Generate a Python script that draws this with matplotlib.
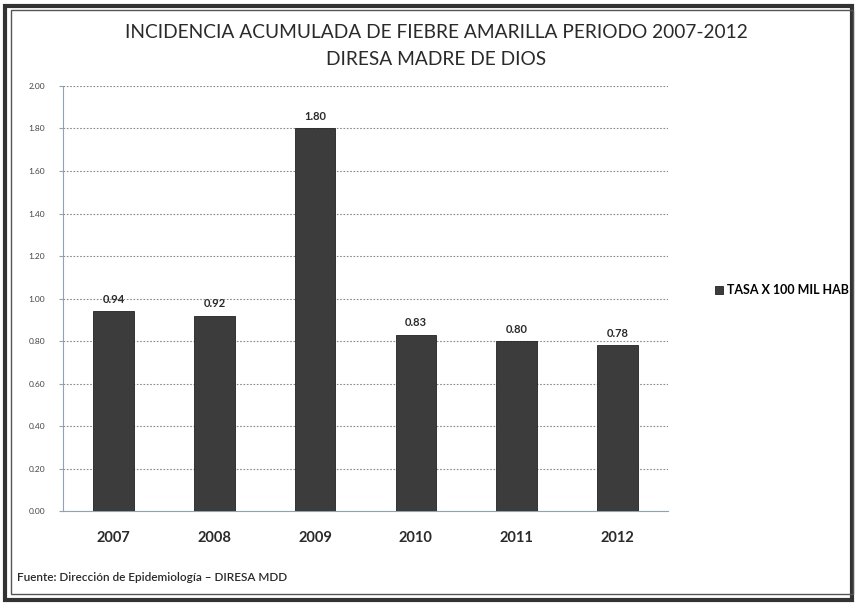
import matplotlib
matplotlib.use("Agg")
import matplotlib.pyplot as plt
from matplotlib.patches import Rectangle

years = ["2007", "2008", "2009", "2010", "2011", "2012"]
tasa = [0.94, 0.92, 1.80, 0.83, 0.80, 0.78]
labels = ["0.94", "0.92", "1.80", "0.83", "0.80", "0.78"]
yticks = [0.0, 0.2, 0.4, 0.6, 0.8, 1.0, 1.2, 1.4, 1.6, 1.8, 2.0]

plt.rcParams["font.family"] = ["Lato", "DejaVu Sans"]
BAR = "#3c3c3c"
TXT = "#2a2a2a"

fig = plt.figure(figsize=(8.55, 6.05), dpi=100, facecolor="white")
ax = fig.add_axes([0.074, 0.155, 0.707, 0.703])

x = list(range(len(years)))
ax.bar(x, tasa, width=0.4, color=BAR, edgecolor="#222222", linewidth=0.6,
       label="TASA X 100 MIL HAB", zorder=3)
for xi, v, s in zip(x, tasa, labels):
    ax.text(xi, v + 0.03, s, ha="center", va="bottom", fontsize=8,
            fontweight="bold", color=TXT)

ax.set_xlim(-0.5, 5.5)
ax.set_ylim(0, 2.0)
ax.set_yticks(yticks)
ax.set_yticklabels([f"{t:.2f}" for t in yticks], fontsize=6, color="#444444")
ax.set_xticks(x)
ax.set_xticklabels(years, fontsize=10.5, fontweight="bold", color=TXT)
ax.tick_params(axis="x", length=0, pad=14)
ax.tick_params(axis="y", length=3, color="#8fa3b0", pad=10)
ax.yaxis.grid(True, linestyle=(0, (1.5, 1.5)), color="#8a8a8a", linewidth=0.8, zorder=0)
for s in ("top", "right"):
    ax.spines[s].set_visible(False)
ax.spines["left"].set_color("#8fa3b0")
ax.spines["bottom"].set_color("#8fa3b0")

fig.text(0.51, 0.947, "INCIDENCIA ACUMULADA DE FIEBRE AMARILLA PERIODO 2007-2012",
         ha="center", va="center", fontsize=13.8, color=TXT)
fig.text(0.51, 0.902, "DIRESA MADRE DE DIOS", ha="center", va="center",
         fontsize=13.8, color=TXT)

ax.legend(loc="center left", bbox_to_anchor=(1.06, 0.52), frameon=False,
          handlelength=0.6, handleheight=0.6, handletextpad=0.3,
          prop={"weight": "bold", "size": 9})

fig.text(0.02, 0.045, "Fuente: Dirección de Epidemiología \u2013 DIRESA MDD",
         ha="left", va="center", fontsize=8.5, fontweight="semibold", color=TXT)

# double frame of the scanned box
fig.patches.append(Rectangle((0.006, 0.008), 0.99, 0.982, transform=fig.transFigure,
                             fill=False, edgecolor="#333333", linewidth=3))
fig.patches.append(Rectangle((0.013, 0.018), 0.985, 0.965, transform=fig.transFigure,
                             fill=False, edgecolor="#555555", linewidth=1))

fig.savefig("out.png", dpi=100, facecolor="white")
